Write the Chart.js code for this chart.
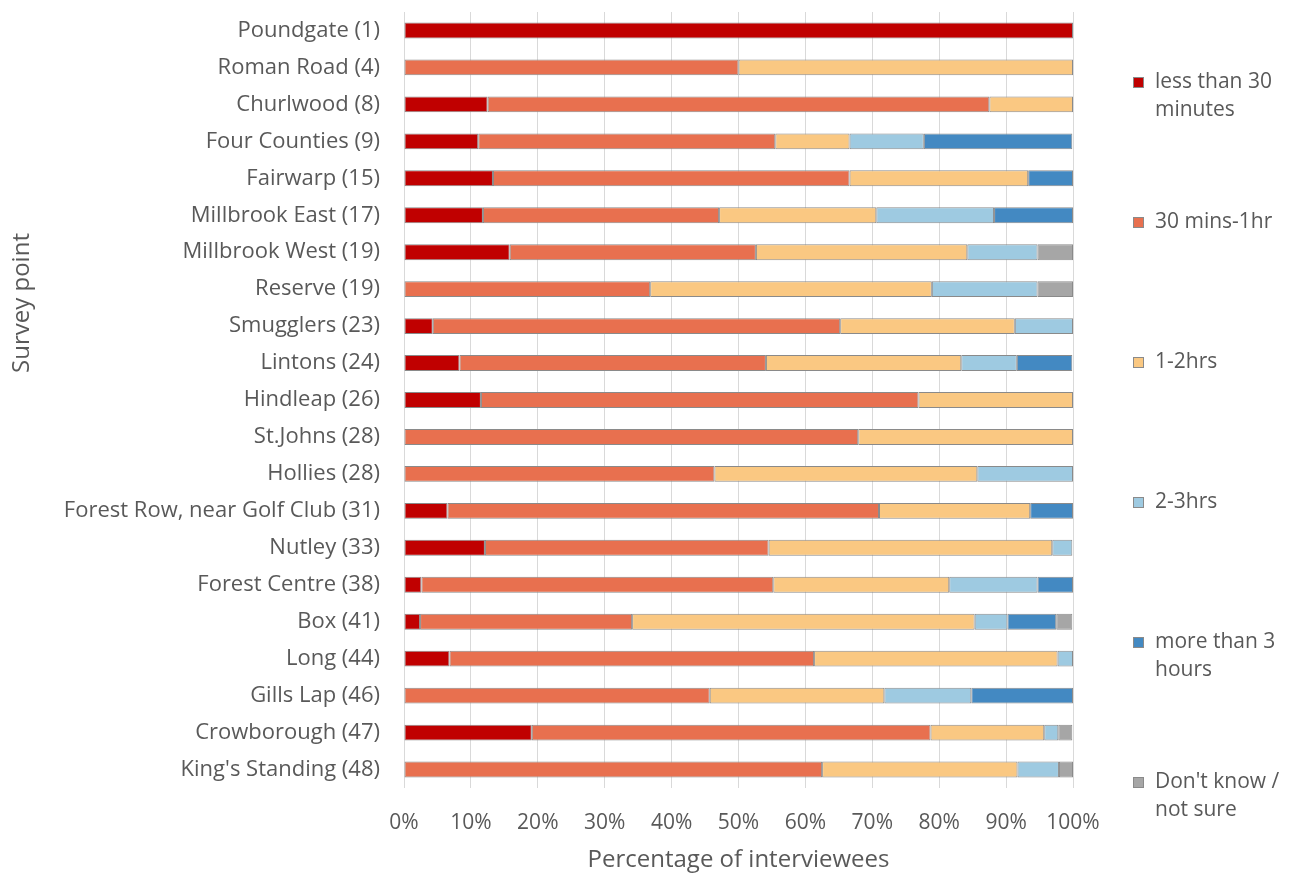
<!DOCTYPE html>
<html>
<head>
<meta charset="utf-8">
<script src="https://cdn.jsdelivr.net/npm/chart.js@4.4.1/dist/chart.umd.min.js"></script>
<style>
  html, body { margin: 0; padding: 0; background: #ffffff; }
  #wrap { position: relative; width: 1302px; height: 875px; }
</style>
</head>
<body>
<div id="wrap"><canvas id="c" width="1302" height="875"></canvas></div>
<script>
const categories = [
  "Poundgate (1)", "Roman Road (4)", "Churlwood (8)", "Four Counties (9)", "Fairwarp (15)",
  "Millbrook East (17)", "Millbrook West (19)", "Reserve (19)", "Smugglers (23)", "Lintons (24)",
  "Hindleap (26)", "St.Johns (28)", "Hollies (28)", "Forest Row, near Golf Club (31)", "Nutley (33)",
  "Forest Centre (38)", "Box (41)", "Long (44)", "Gills Lap (46)", "Crowborough (47)", "King's Standing (48)"
];
const lessThan30 = [100, 0, 12.5, 11.1, 13.3, 11.8, 15.8, 0, 4.3, 8.3, 11.5, 0, 0, 6.5, 12.1, 2.6, 2.4, 6.8, 0, 19.1, 0];
const mins30to1hr = [0, 50, 75, 44.4, 53.3, 35.3, 36.8, 36.8, 60.9, 45.8, 65.4, 67.9, 46.4, 64.5, 42.4, 52.6, 31.7, 54.5, 45.7, 59.6, 62.5];
const hrs1to2 = [0, 50, 12.5, 11.1, 26.7, 23.5, 31.6, 42.1, 26.1, 29.2, 23.1, 32.1, 39.3, 22.6, 42.4, 26.3, 51.2, 36.4, 26.1, 17.0, 29.2];
const hrs2to3 = [0, 0, 0, 11.1, 0, 17.6, 10.5, 15.8, 8.7, 8.3, 0, 0, 14.3, 0, 3.0, 13.2, 4.9, 2.3, 13.0, 2.1, 6.2];
const moreThan3 = [0, 0, 0, 22.2, 6.7, 11.8, 0, 0, 0, 8.3, 0, 0, 0, 6.4, 0, 5.3, 7.3, 0, 15.2, 0, 0];
const dontKnow = [0, 0, 0, 0, 0, 0, 5.3, 5.3, 0, 0, 0, 0, 0, 0, 0, 0, 2.4, 0, 0, 2.1, 2.1];
const xTicks = [0, 10, 20, 30, 40, 50, 60, 70, 80, 90, 100];
const seriesNames = [["less than 30", "minutes"], ["30 mins-1hr"], ["1-2hrs"], ["2-3hrs"], ["more than 3", "hours"], ["Don't know /", "not sure"]];
const seriesColors = ["#C00000", "#E8704F", "#FAC882", "#9ECAE1", "#4389C2", "#A6A6A6"];
const seriesValues = [lessThan30, mins30to1hr, hrs1to2, hrs2to3, moreThan3, dontKnow];

const FONT = "'Open Sans', sans-serif";
const TXT = "#595959";

const datasets = seriesValues.map((vals, i) => ({
  label: seriesNames[i].join(" "),
  data: vals,
  backgroundColor: seriesColors[i],
  borderColor: "#8a8a8a",
  borderWidth: 1,
  borderSkipped: false,
  barPercentage: 0.43,
  categoryPercentage: 1.0
}));

const customLegend = {
  id: "customLegend",
  afterDraw(chart) {
    const ctx = chart.ctx;
    ctx.save();
    ctx.font = "21px " + FONT;
    ctx.textBaseline = "middle";
    ctx.textAlign = "left";
    seriesNames.forEach((lines, i) => {
      const y0 = 82 + 140 * i;
      ctx.fillStyle = seriesColors[i];
      ctx.fillRect(1133, y0 - 5, 11, 11);
      ctx.strokeStyle = "#8a8a8a";
      ctx.lineWidth = 1;
      ctx.strokeRect(1133.5, y0 - 4.5, 10, 10);
      ctx.fillStyle = TXT;
      lines.forEach((t, j) => ctx.fillText(t, 1155, y0 + 28 * j));
    });
    // y axis title
    ctx.translate(22, 303);
    ctx.rotate(-Math.PI / 2);
    ctx.textAlign = "center";
    ctx.font = "24px " + FONT;
    ctx.fillText("Survey point", 0, 0);
    ctx.restore();
  }
};

new Chart(document.getElementById("c"), {
  type: "bar",
  data: { labels: categories, datasets },
  options: {
    indexAxis: "y",
    responsive: false,
    animation: false,
    layout: { padding: { left: 0, right: 229, top: 12, bottom: 0 } },
    plugins: { legend: { display: false }, tooltip: { enabled: false } },
    scales: {
      x: {
        stacked: true,
        min: 0,
        max: 100,
        afterBuildTicks(scale) { scale.ticks = xTicks.map(v => ({ value: v })); },
        afterFit(scale) { scale.height = 87; scale.paddingLeft = 0; scale.paddingRight = 0; },
        grid: { color: "#d9d9d9", lineWidth: 1, drawTicks: false },
        border: { display: false },
        ticks: { color: TXT, font: { family: FONT, size: 21 }, padding: 22, callback: v => v + "%" },
        title: { display: true, text: "Percentage of interviewees", color: TXT, font: { family: FONT, size: 24 }, padding: { top: 1, bottom: 0 } }
      },
      y: {
        stacked: true,
        afterFit(scale) { scale.width = 404; scale.paddingTop = 0; scale.paddingBottom = 0; },
        grid: { display: false, drawTicks: false },
        border: { display: false },
        ticks: { color: TXT, font: { family: FONT, size: 22 }, padding: 24, autoSkip: false }
      }
    }
  },
  plugins: [customLegend]
});
</script>
</body>
</html>
